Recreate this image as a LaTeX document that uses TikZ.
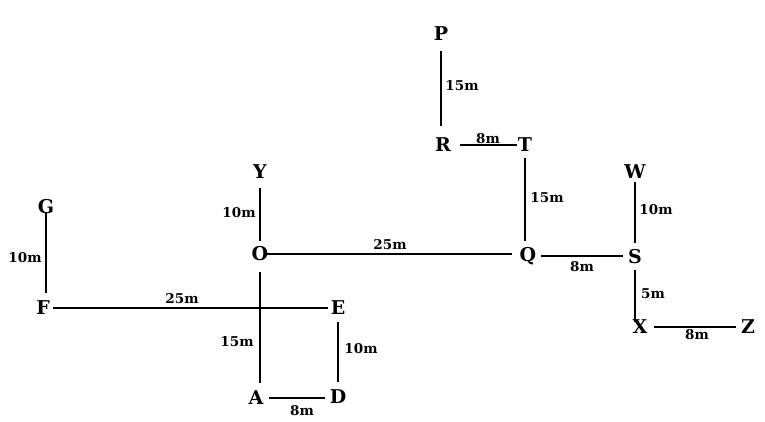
\documentclass[tikz,border=0pt]{standalone}
\usepackage{fontspec}
\setmainfont{DejaVu Serif}
\begin{document}
\begin{tikzpicture}[x=1pt,y=-1pt,
  pt/.style={font=\fontsize{19}{19}\selectfont\bfseries,inner sep=0pt},
  lbl/.style={font=\fontsize{13.5}{13.5}\selectfont\bfseries,inner sep=0pt},
  seg/.style={line width=1.9pt}]
\useasboundingbox (0,0) rectangle (765,422);
% points
\node[pt] (P) at (441,34) {P};
\node[pt] (R) at (443,145) {R};
\node[pt] (T) at (525,145) {T};
\node[pt] (Q) at (528,256) {Q};
\node[pt] (W) at (635,172) {W};
\node[pt] (S) at (635,257) {S};
\node[pt] (X) at (640,327) {X};
\node[pt] (Z) at (748,327) {Z};
\node[pt] (Y) at (260,172) {Y};
\node[pt] (O) at (260,254) {O};
\node[pt] (G) at (46,207) {G};
\node[pt] (F) at (43,308) {F};
\node[pt] (E) at (338,308) {E};
\node[pt] (A) at (256,398) {A};
\node[pt] (D) at (338,397) {D};
% segments
\draw[seg,shorten <=17pt,shorten >=19pt] (P.center) -- (P.center |- R.center);
\draw[seg,shorten <=17pt,shorten >=8pt] (R.center) -- (T.center);
\draw[seg,shorten <=13pt,shorten >=15pt] (T.center) -- (T.center |- Q.center);
\draw[seg,shorten <=13pt,shorten >=12pt] (Q.center) -- (Q.center -| S.center);
\draw[seg,shorten <=10pt,shorten >=14pt] (W.center) -- (S.center);
\draw[seg,shorten <=13pt,shorten >=5pt] (S.center) -- (S.center |- X.center);
\draw[seg,shorten <=14pt,shorten >=12pt] (X.center) -- (Z.center);
\draw[seg,shorten <=16pt,shorten >=13pt] (Y.center) -- (Y.center |- O.center);
\draw[seg,shorten <=7pt,shorten >=16pt] (O.center) -- (O.center -| Q.center);
\draw[seg,shorten <=18pt,shorten >=15pt] (O.center) -- (O.center |- A.center);
\draw[seg,shorten <=10pt,shorten >=10pt] (F.center) -- (E.center);
\draw[seg,shorten <=6pt,shorten >=15pt] (G.center) -- (G.center |- F.center);
\draw[seg,shorten <=14pt,shorten >=15pt] (E.center) -- (E.center |- D.center);
\draw[seg,shorten <=13pt,shorten >=13pt] (A.center) -- (A.center -| D.center);
% labels
\node[lbl] (l1) at (462,86) {15m};
\node[lbl] (l2) at (488,139) {8m};
\node[lbl] (l3) at (547,198) {15m};
\node[lbl] (l4) at (582,267) {8m};
\node[lbl] (l5) at (656,210) {10m};
\node[lbl] (l6) at (653,294) {5m};
\node[lbl] (l7) at (697,335) {8m};
\node[lbl] (l8) at (239,213) {10m};
\node[lbl] (l9) at (390,245) {25m};
\node[lbl] (l10) at (182,299) {25m};
\node[lbl] (l11) at (25,258) {10m};
\node[lbl] (l12) at (237,342) {15m};
\node[lbl] (l13) at (361,349) {10m};
\node[lbl] (l14) at (302,411) {8m};
\end{tikzpicture}
\end{document}
